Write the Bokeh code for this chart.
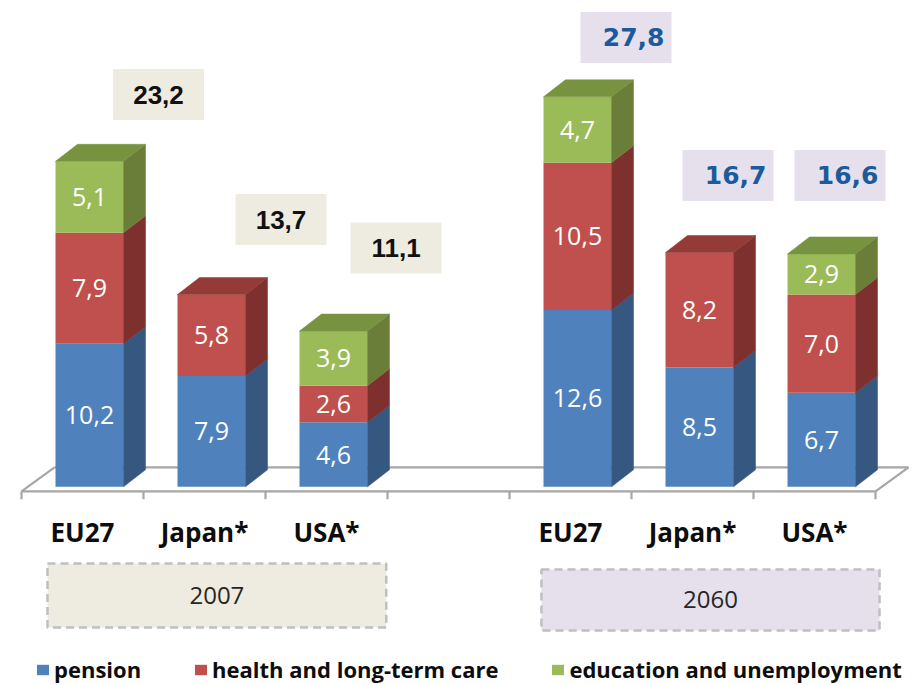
from bokeh.plotting import figure
from bokeh.models import ColumnDataSource, Legend, LegendItem, Range1d
from bokeh.embed import file_html
from bokeh.resources import INLINE
from bokeh.core.properties import value

# ---------------- data ----------------
groups = ["EU27", "Japan*", "USA*", "EU27", "Japan*", "USA*"]
years = ["2007", "2060"]
pension = [10.2, 7.9, 4.6, 12.6, 8.5, 6.7]
health = [7.9, 5.8, 2.6, 10.5, 8.2, 7.0]
education = [5.1, 0.0, 3.9, 4.7, 0.0, 2.9]
totals = [23.2, 13.7, 11.1, 27.8, 16.7, 16.6]
series_names = ["pension", "health and long-term care", "education and unemployment"]

# ---------------- layout / style ----------------
slots = [0, 1, 2, 4, 5, 6]                 # category slot positions (slot 3 is the gap)
year_of = [0, 0, 0, 1, 1, 1]
PXX, PXY = 122.0, 14.03                    # pixels per x unit / per value unit
bar_shift = 7 / PXX
bar_w = 68 / PXX
ddx, ddy = 22 / PXX, 17 / PXY              # 3D depth of bars
front_cols = ["#4F81BD", "#C0504D", "#9BBB59"]
side_cols = ["#36577F", "#7D302E", "#6A7E39"]
top_cols = ["#41699A", "#943B38", "#789340"]
total_fill = ["#EEECE1", "#E5E0EC"]
total_text = ["#111111", "#1B5A9B"]
total_font = ["Liberation Sans", "DejaVu Sans"]
total_dx = [0.623, 0.627, 0.570, 0.455, 0.291, 0.209]   # label box offsets (layout)
total_dy = [4.76, 5.35, 5.92, 4.23, 5.49, 5.59]
year_box = [(-0.287, 2.49, -5.47, -10.03), (3.762, 6.533, -5.89, -10.24)]

W, H = 912, 684
x0 = -82 / PXX
x1 = x0 + W / PXX
y1 = 486.3 / PXY
y0 = y1 - H / PXY

p = figure(width=W, height=H, x_range=Range1d(x0, x1), y_range=Range1d(y0, y1),
           output_backend="svg", toolbar_location=None,
           x_axis_location=None, y_axis_location=None,
           min_border=0, outline_line_color=None)
p.grid.visible = False
p.background_fill_color = "white"

# ---------------- floor ----------------
FY = -0.33
fdx, fdy = 33 / PXX, 24 / PXY
fl, fr = -0.5, 6.5
floor_xs = [[fl, fr], [fl, fl + fdx], [fl + fdx, fr + fdx], [fr, fr + fdx]]
floor_ys = [[FY, FY], [FY, FY + fdy], [FY + fdy, FY + fdy], [FY, FY + fdy]]
for k in range(8):
    floor_xs.append([fl + k, fl + k])
    floor_ys.append([FY, FY - 0.55])
p.multi_line(floor_xs, floor_ys, line_color="#A6A6A6", line_width=2.2)

# ---------------- bars ----------------
bx = [s + bar_shift for s in slots]
src = ColumnDataSource(dict(x=bx, pension=pension, health=health, education=education))
fronts = p.vbar_stack(["pension", "health", "education"], x="x", width=bar_w,
                      color=front_cols, line_color=None, source=src)

series = [pension, health, education]
side_xs, side_ys, side_c = [], [], []
top_xs, top_ys, top_c = [], [], []
lab_x, lab_y, lab_t = [], [], []
for i in range(len(groups)):
    base = 0.0
    last = None
    for s in range(3):
        v = series[s][i]
        if v <= 0:
            continue
        r = bx[i] + bar_w / 2
        side_xs.append([r, r + ddx, r + ddx, r])
        side_ys.append([base, base + ddy, base + v + ddy, base + v])
        side_c.append(side_cols[s])
        lab_x.append(bx[i])
        lab_y.append(base + v / 2)
        lab_t.append(f"{v:.1f}".replace(".", ","))
        base += v
        last = s
    l, r = bx[i] - bar_w / 2, bx[i] + bar_w / 2
    top_xs.append([l, r, r + ddx, l + ddx])
    top_ys.append([base, base, base + ddy, base + ddy])
    top_c.append(top_cols[last])

p.patches(side_xs, side_ys, fill_color=side_c, line_color=side_c, line_width=0.5)
p.patches(top_xs, top_ys, fill_color=top_c, line_color=top_c, line_width=0.5)

p.text(lab_x, lab_y, text=lab_t, text_color="white", text_font=value("Open Sans"),
       text_font_size="25px", text_align="center", text_baseline="middle")

# ---------------- totals ----------------
for i in range(len(groups)):
    yi = year_of[i]
    cx = slots[i] + total_dx[i]
    cy = totals[i] + total_dy[i]
    p.rect([cx], [cy], width=91, height=51, width_units="screen", height_units="screen",
           fill_color=total_fill[yi], line_color=None)
    t = f"{totals[i]:.1f}".replace(".", ",")
    if yi == 0:
        p.text([cx], [cy], text=[t], text_color=total_text[yi], text_font=value(total_font[yi]),
               text_font_size="26px", text_font_style="bold", text_align="center",
               text_baseline="middle")
    else:
        p.text([cx + 38.5 / PXX], [cy], text=[t], text_color=total_text[yi],
               text_font=value(total_font[yi]), text_font_size="25px",
               text_font_style="bold", text_align="right", text_baseline="middle")

# ---------------- category labels ----------------
p.text(slots, [-3.22] * len(slots), text=groups, text_color="#0D0D0D",
       text_font=value("Open Sans"), text_font_size="26px", text_font_style="bold",
       text_align="center", text_baseline="middle")

# ---------------- year boxes ----------------
for k, (l, r, t, b) in enumerate(year_box):
    p.quad(left=[l], right=[r], top=[t], bottom=[b], fill_color=total_fill[k],
           line_color="#BFBFBF", line_width=2.5, line_dash="8 5")
    p.text([(l + r) / 2], [(t + b) / 2], text=[years[k]], text_color="#262626",
           text_font=value("Open Sans"), text_font_size="24px",
           text_align="center", text_baseline="middle")

# ---------------- legend ----------------
legend = Legend(items=[LegendItem(label=series_names[s], renderers=[fronts[s]]) for s in range(3)],
                orientation="horizontal", location=(35, 0),
                glyph_width=15, glyph_height=13, label_standoff=4, spacing=52,
                padding=0, margin=0, border_line_color=None, background_fill_alpha=0,
                label_text_font="Open Sans", label_text_font_style="bold",
                label_text_font_size="22px", label_text_color="#0D0D0D")
p.add_layout(legend)

open("out.html", "w").write(file_html(p, INLINE))
